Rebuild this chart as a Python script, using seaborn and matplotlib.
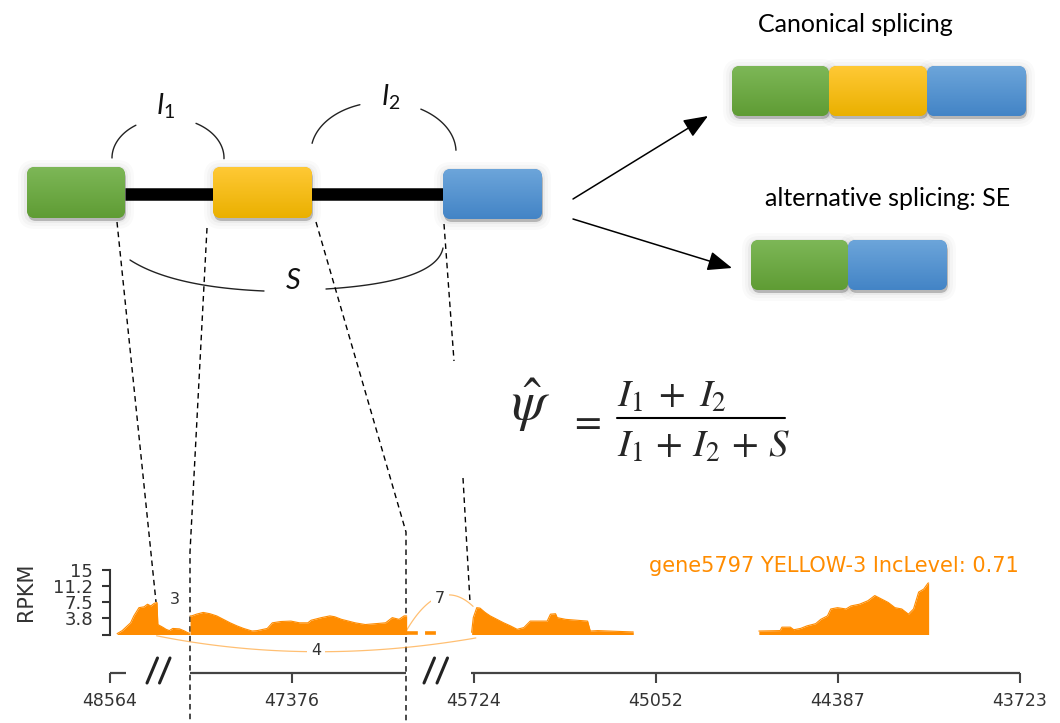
import numpy as np
import matplotlib
matplotlib.use("Agg")
import matplotlib.pyplot as plt
import seaborn as sns
from matplotlib.patches import FancyBboxPatch
from matplotlib.colors import to_rgb

sns.set_theme(style="white")
plt.rcParams["font.family"] = ["DejaVu Sans"]
plt.rcParams["mathtext.it"] = "Lato:italic"
plt.rcParams["mathtext.rm"] = "Lato"
plt.rcParams["mathtext.bf"] = "Lato:bold"
plt.rcParams["mathtext.sf"] = "Lato"

# ------------------------------------------------------------------ data
tick_pos = [0, 100, 200, 300, 400, 500]
tick_labels = ["48564", "47376", "45724", "45052", "44387", "43723"]
ytick_vals = [0, 3.75, 7.5, 11.25, 15]
ytick_labels = ["", "3.8", "7.5", "11.2", "15"]

# coverage (RPKM) along the compressed track
cov1_pos = [3.9, 6.7, 11.3, 13.1, 15.9, 18.7, 20.6, 22.4, 24.3, 25.8, 26.3,
            28.9, 30.8, 32.6, 34.5, 38.2, 41.0, 42.8, 43.8]
cov1_val = [0.2, 0.9, 2.7, 4.3, 6.2, 6.4, 7.0, 6.6, 7.2, 7.4, 2.3,
            1.7, 1.2, 0.9, 1.4, 1.3, 0.8, 0.4, 0.3]
cov2_pos = [44.0, 44.9, 47.5, 51.2, 54.9, 58.6, 62.3, 66.0, 69.7, 73.4, 78.1,
            80.9, 86.4, 89.2, 93.8, 99.4, 104.1, 108.7, 110.5, 116.1, 120.8,
            123.5, 127.2, 131.0, 134.7, 140.3, 145.8, 151.4, 155.1, 158.8,
            161.6, 163.0]
cov2_val = [4.3, 4.3, 4.7, 5.1, 4.8, 4.3, 3.5, 2.7, 2.0, 1.4, 0.8,
            0.9, 1.4, 2.7, 3.0, 3.1, 2.7, 2.7, 3.3, 3.9, 4.3,
            4.1, 3.5, 3.1, 2.7, 2.3, 2.5, 2.7, 3.9, 3.5,
            4.3, 4.3]
low_pos = [163.0, 183.0]
low_val = [0.4, 0.4]
cov3_pos = [198.7, 199.6, 201.5, 203.3, 206.1, 208.9, 212.6, 216.3, 220.0,
            223.7, 227.4, 230.9, 240.2, 242.0, 244.8, 245.7, 250.4, 262.4,
            263.9, 268.0, 286.6, 287.5]
cov3_val = [0.5, 3.9, 6.2, 6.1, 5.1, 4.3, 3.5, 2.7, 2.0,
            1.2, 1.6, 3.1, 3.1, 4.7, 4.8, 3.9, 3.5, 3.1,
            0.8, 0.9, 0.6, 0.6]
cov4_pos = [356.5, 368.2, 369.2, 373.8, 375.7, 379.4, 383.0, 387.7, 390.5,
            394.2, 396.0, 399.7, 404.4, 407.1, 411.8, 416.4, 420.2, 423.9,
            427.6, 431.3, 435.0, 438.7, 441.5, 444.3, 447.1, 449.5, 449.8]
cov4_val = [0.8, 0.9, 1.7, 1.7, 1.1, 1.4, 2.0, 2.5, 3.5,
            4.3, 5.9, 6.2, 5.9, 6.6, 7.0, 7.8, 9.0, 8.2,
            7.4, 6.2, 5.9, 4.7, 5.9, 9.8, 10.5, 11.9, 11.9]

# junctions: label, label position (pos, RPKM), arc (start, control, end)
junc_labels = ["3", "7", "4"]
junc_label_pos = [(35.7, 8.2), (181.3, 8.4), (113.2, -3.8)]
junc_arcs = [None,
             ((163.0, 1.0), (181.0, 13.8), (199.5, 6.5)),
             ((25.6, -0.3), (110.0, -7.4), (201.0, -0.8))]

title = "gene5797 YELLOW-3 IncLevel: 0.71"
ORANGE = "#ff8c00"

# ------------------------------------------------------------------ figure
W, H = 1060, 723
fig = plt.figure(figsize=(W / 100, H / 100), dpi=100)
ax = fig.add_axes([0, 0, 1, 1])
ax.set_axis_off()


def draw_box(x0, y0, x1, y1, top, bottom):
    for k, a in [(9, 0.018), (6, 0.025), (3, 0.04)]:
        ax.add_patch(FancyBboxPatch((x0 - k, y0 - k + 2), (x1 - x0) + 2 * k,
                                    (y1 - y0) + 2 * k,
                                    boxstyle=f"round,pad=0,rounding_size={8 + k}",
                                    fc="black", ec="none", alpha=a, zorder=2))
    ax.add_patch(FancyBboxPatch((x0 + 1, y0 + 3), x1 - x0, y1 - y0,
                                boxstyle="round,pad=0,rounding_size=8",
                                fc="black", ec="none", alpha=0.22, zorder=2))
    p = FancyBboxPatch((x0, y0), x1 - x0, y1 - y0,
                       boxstyle="round,pad=0,rounding_size=8",
                       fc=bottom, ec="none", zorder=3)
    ax.add_patch(p)
    g = np.linspace(0, 1, 64)[:, None, None]
    img = np.array(to_rgb(top)) * (1 - g) + np.array(to_rgb(bottom)) * g
    im = ax.imshow(img, extent=(x0, x1, y1, y0), aspect="auto", zorder=4,
                   interpolation="bilinear")
    im.set_clip_path(p)


GREEN = ("#7db757", "#5f9c34")
YELLOW = ("#ffc935", "#eab000")
BLUE = ("#6ca5da", "#4384c6")

# intron line
ax.plot([125, 443], [194, 194], color="black", lw=9, solid_capstyle="butt", zorder=1)

# main gene exons
draw_box(27, 167, 125, 218, *GREEN)
draw_box(213, 167, 312, 218, *YELLOW)
draw_box(443, 169, 542, 219, *BLUE)
# canonical isoform
draw_box(732, 66, 829, 116, *GREEN)
draw_box(829, 66, 927, 116, *YELLOW)
draw_box(927, 66, 1026, 116, *BLUE)
# skipped isoform
draw_box(751, 240, 848, 290, *GREEN)
draw_box(848, 240, 947, 290, *BLUE)


def ell(cx, cy, a, b, t0, t1):
    t = np.radians(np.linspace(t0, t1, 60))
    ax.plot(cx + a * np.cos(t), cy - b * np.sin(t), color="#222222", lw=1.0, zorder=5)


def qbez(axx, p0, p1, p2, **kw):
    t = np.linspace(0, 1, 80)[:, None]
    pts = ((1 - t) ** 2 * np.array(p0) + 2 * (1 - t) * t * np.array(p1)
           + t ** 2 * np.array(p2))
    axx.plot(pts[:, 0], pts[:, 1], **kw)


# inclusion junction arcs I1, I2
ell(168, 158, 56, 40, 180, 125)
ell(168, 158, 56, 40, 60, -1)
ell(383.5, 152, 72.5, 50, 170, 109)
ell(383.5, 152, 72.5, 50, 59, 2)
# skipping arc S
qbez(ax, (130, 260), (172, 287), (264, 291), color="#222222", lw=1.0, zorder=5)
qbez(ax, (326, 289), (436, 282), (443, 248), color="#222222", lw=1.0, zorder=5)

ax.text(166, 106, r"$I_1$", math_fontfamily="custom", fontsize=20,
        ha="center", va="center", color="#111111")
ax.text(391, 97, r"$I_2$", math_fontfamily="custom", fontsize=20,
        ha="center", va="center", color="#111111")
ax.text(293, 281, r"$S$", math_fontfamily="custom", fontsize=21,
        ha="center", va="center", color="#111111")

# titles
ax.text(855, 32, "Canonical splicing", family="Lato", fontsize=18,
        ha="center", va="baseline", color="black")
ax.text(888, 206, "alternative splicing: SE", family="Lato", fontsize=18,
        ha="center", va="baseline", color="black")

# arrows
akw = dict(arrowstyle="-|>,head_length=0.75,head_width=0.3", lw=1.1,
           color="black", mutation_scale=20, shrinkA=0, shrinkB=0)
ax.annotate("", xy=(708, 116), xytext=(573, 199), arrowprops=akw)
ax.annotate("", xy=(732, 268), xytext=(573, 219), arrowprops=akw)

# formula
ax.text(531, 405, r"$\hat{\psi}$", math_fontfamily="stix", fontsize=40,
        ha="center", va="center")
ax.text(585, 421, r"$=$", math_fontfamily="stix", fontsize=28,
        ha="center", va="center")
ax.text(617, 407, r"$I_1\;+\;I_2$", math_fontfamily="stix", fontsize=28,
        ha="left", va="baseline")
ax.text(617, 457, r"$I_1\,+\,I_2\,+\,S$", math_fontfamily="stix", fontsize=28,
        ha="left", va="baseline")
ax.plot([617, 785], [418, 418], color="black", lw=1.5)

# dashed guide lines from exon edges into the coverage track
dkw = dict(color="black", lw=1.0, ls=(0, (4, 3)), zorder=6)
ax.plot([117, 156], [222, 602], **dkw)
ax.plot([207, 190, 190], [228, 552, 723], **dkw)
ax.plot([316, 406, 406], [222, 532, 723], **dkw)
ax.plot([444, 454], [224, 361], **dkw)
ax.plot([463, 470], [478, 602], **dkw)

# axis break marks
for x in (147, 159.5, 424, 437):
    ax.plot([x, x + 10.5], [683, 658], color="#222222", lw=2.2)

ax.text(1019, 566, title, fontsize=15, color=ORANGE, ha="right", va="center")

ax.set_xlim(0, W)
ax.set_ylim(H, 0)

# ------------------------------------------------------------------ sashimi
y_axis_px, y0_px, y15_px = 672.5, 634.5, 569.6
px_per = (y0_px - y15_px) / 15.0
ylow = -(y_axis_px - y0_px) / px_per
ax_s = fig.add_axes([110 / W, (H - y_axis_px) / H, 910 / W, (y_axis_px - y15_px) / H])
ax_s.patch.set_alpha(0)
ax_s.set_xlim(0, 500)
ax_s.set_ylim(ylow, 15)

for xs, vs in [(cov1_pos, cov1_val), (cov2_pos, cov2_val),
               (cov3_pos, cov3_val), (cov4_pos, cov4_val)]:
    ax_s.fill_between(xs, 0, vs, color=ORANGE, lw=0)
    sns.lineplot(x=xs, y=vs, ax=ax_s, color=ORANGE, lw=0.8, estimator=None,
                 sort=False)
ax_s.plot(low_pos, low_val, color=ORANGE, lw=2.6, ls=(0, (3, 2)))

for lab, (lx, ly), arc in zip(junc_labels, junc_label_pos, junc_arcs):
    if arc is not None:
        qbez(ax_s, *arc, color=ORANGE, lw=0.9, alpha=0.55, clip_on=False)
    ax_s.text(lx, ly, lab, fontsize=11.5, color="#333333", ha="center", va="center",
              bbox=dict(fc="white", ec="none", pad=2.5))

# broken genomic axis
for a, b in [(0, 8.8), (44.0, 162.6), (198.4, 500)]:
    ax_s.plot([a, b], [ylow, ylow], color="#444444", lw=1.6, clip_on=False,
              solid_capstyle="butt")

sns.despine(ax=ax_s, bottom=True, right=True, top=True)
ax_s.spines["left"].set_bounds(0, 15)
ax_s.spines["left"].set_color("#333333")
ax_s.spines["left"].set_linewidth(1.5)
ax_s.set_yticks(ytick_vals)
ax_s.set_yticklabels(ytick_labels)
ax_s.set_xticks(tick_pos)
ax_s.set_xticklabels(tick_labels)
ax_s.tick_params(axis="y", direction="out", length=6, width=1.5, color="#333333",
                 labelsize=13, labelcolor="#333333", pad=6, left=True)
ax_s.tick_params(axis="x", direction="out", length=7, width=1.5, color="#444444",
                 labelsize=12.5, labelcolor="#333333", pad=7, bottom=True)
ax_s.set_ylabel("RPKM", fontsize=15, color="#333333")
ax_s.yaxis.set_label_coords(-0.081, 0.782)
ax_s.grid(False)

fig.savefig("out.png", dpi=100)
